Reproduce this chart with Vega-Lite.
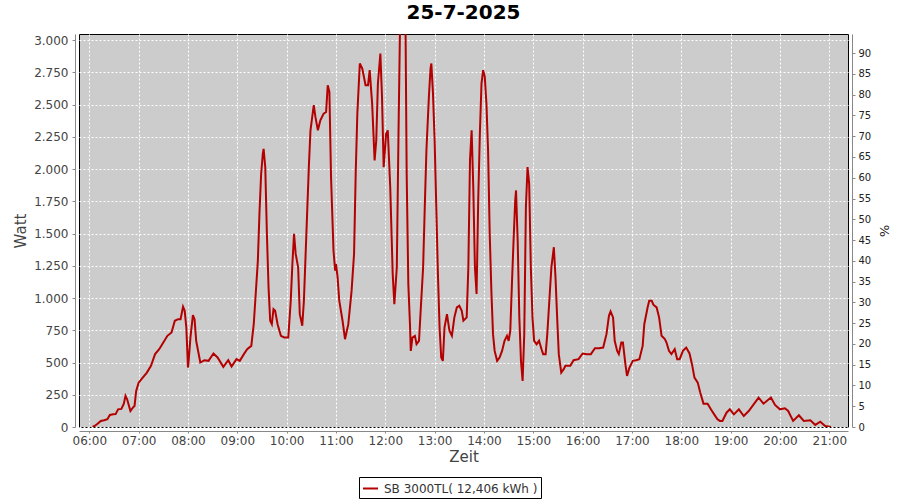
{
  "$schema": "https://vega.github.io/schema/vega-lite/v6.json",
  "width": 769,
  "height": 393,
  "autosize": {"type": "none"},
  "padding": {"left": 79, "top": 34, "right": 52, "bottom": 73},
  "background": "white",
  "title": {
    "text": "25-7-2025",
    "font": "DejaVu Sans",
    "fontSize": 20,
    "fontWeight": "bold",
    "color": "#000000",
    "anchor": "middle",
    "offset": 11
  },
  "config": {
    "view": {"fill": "#CCCCCC", "stroke": "#000000", "strokeWidth": 1},
    "axis": {
      "labelFont": "DejaVu Sans",
      "titleFont": "DejaVu Sans",
      "gridColor": "#FFFFFF",
      "gridDash": [2, 2],
      "gridWidth": 1,
      "gridOpacity": 1,
      "domainColor": "#888888",
      "tickColor": "#888888"
    }
  },
  "data": {
    "values": [
      {"time": "2025-07-25T06:04Z", "watt": 0},
      {"time": "2025-07-25T06:07Z", "watt": 10},
      {"time": "2025-07-25T06:10Z", "watt": 25},
      {"time": "2025-07-25T06:14Z", "watt": 47},
      {"time": "2025-07-25T06:18Z", "watt": 52},
      {"time": "2025-07-25T06:22Z", "watt": 60},
      {"time": "2025-07-25T06:25Z", "watt": 93},
      {"time": "2025-07-25T06:29Z", "watt": 98},
      {"time": "2025-07-25T06:32Z", "watt": 100},
      {"time": "2025-07-25T06:35Z", "watt": 137},
      {"time": "2025-07-25T06:39Z", "watt": 140},
      {"time": "2025-07-25T06:42Z", "watt": 180},
      {"time": "2025-07-25T06:44Z", "watt": 241},
      {"time": "2025-07-25T06:46Z", "watt": 215},
      {"time": "2025-07-25T06:50Z", "watt": 124},
      {"time": "2025-07-25T06:53Z", "watt": 150},
      {"time": "2025-07-25T06:55Z", "watt": 163},
      {"time": "2025-07-25T06:57Z", "watt": 280},
      {"time": "2025-07-25T07:00Z", "watt": 344},
      {"time": "2025-07-25T07:05Z", "watt": 383},
      {"time": "2025-07-25T07:10Z", "watt": 422},
      {"time": "2025-07-25T07:15Z", "watt": 474},
      {"time": "2025-07-25T07:20Z", "watt": 565},
      {"time": "2025-07-25T07:25Z", "watt": 603},
      {"time": "2025-07-25T07:30Z", "watt": 655},
      {"time": "2025-07-25T07:35Z", "watt": 707},
      {"time": "2025-07-25T07:40Z", "watt": 733},
      {"time": "2025-07-25T07:44Z", "watt": 824},
      {"time": "2025-07-25T07:48Z", "watt": 836},
      {"time": "2025-07-25T07:51Z", "watt": 836},
      {"time": "2025-07-25T07:54Z", "watt": 932},
      {"time": "2025-07-25T07:56Z", "watt": 901},
      {"time": "2025-07-25T07:58Z", "watt": 772},
      {"time": "2025-07-25T08:00Z", "watt": 461},
      {"time": "2025-07-25T08:01Z", "watt": 526},
      {"time": "2025-07-25T08:03Z", "watt": 694},
      {"time": "2025-07-25T08:06Z", "watt": 868},
      {"time": "2025-07-25T08:08Z", "watt": 836},
      {"time": "2025-07-25T08:10Z", "watt": 668},
      {"time": "2025-07-25T08:15Z", "watt": 500},
      {"time": "2025-07-25T08:20Z", "watt": 518},
      {"time": "2025-07-25T08:25Z", "watt": 513},
      {"time": "2025-07-25T08:31Z", "watt": 570},
      {"time": "2025-07-25T08:36Z", "watt": 539},
      {"time": "2025-07-25T08:43Z", "watt": 466},
      {"time": "2025-07-25T08:49Z", "watt": 518},
      {"time": "2025-07-25T08:53Z", "watt": 469},
      {"time": "2025-07-25T08:59Z", "watt": 526},
      {"time": "2025-07-25T09:03Z", "watt": 513},
      {"time": "2025-07-25T09:08Z", "watt": 565},
      {"time": "2025-07-25T09:12Z", "watt": 603},
      {"time": "2025-07-25T09:17Z", "watt": 629},
      {"time": "2025-07-25T09:20Z", "watt": 797},
      {"time": "2025-07-25T09:22Z", "watt": 992},
      {"time": "2025-07-25T09:25Z", "watt": 1290},
      {"time": "2025-07-25T09:27Z", "watt": 1665},
      {"time": "2025-07-25T09:29Z", "watt": 1963},
      {"time": "2025-07-25T09:31Z", "watt": 2118},
      {"time": "2025-07-25T09:32Z", "watt": 2157},
      {"time": "2025-07-25T09:34Z", "watt": 2015},
      {"time": "2025-07-25T09:36Z", "watt": 1497},
      {"time": "2025-07-25T09:38Z", "watt": 1083},
      {"time": "2025-07-25T09:40Z", "watt": 824},
      {"time": "2025-07-25T09:42Z", "watt": 797},
      {"time": "2025-07-25T09:44Z", "watt": 914},
      {"time": "2025-07-25T09:46Z", "watt": 901},
      {"time": "2025-07-25T09:49Z", "watt": 797},
      {"time": "2025-07-25T09:53Z", "watt": 707},
      {"time": "2025-07-25T09:57Z", "watt": 694},
      {"time": "2025-07-25T10:02Z", "watt": 694},
      {"time": "2025-07-25T10:05Z", "watt": 979},
      {"time": "2025-07-25T10:07Z", "watt": 1264},
      {"time": "2025-07-25T10:09Z", "watt": 1497},
      {"time": "2025-07-25T10:11Z", "watt": 1342},
      {"time": "2025-07-25T10:14Z", "watt": 1238},
      {"time": "2025-07-25T10:16Z", "watt": 875},
      {"time": "2025-07-25T10:19Z", "watt": 785},
      {"time": "2025-07-25T10:21Z", "watt": 979},
      {"time": "2025-07-25T10:24Z", "watt": 1497},
      {"time": "2025-07-25T10:27Z", "watt": 2015},
      {"time": "2025-07-25T10:29Z", "watt": 2300},
      {"time": "2025-07-25T10:33Z", "watt": 2495},
      {"time": "2025-07-25T10:35Z", "watt": 2404},
      {"time": "2025-07-25T10:38Z", "watt": 2300},
      {"time": "2025-07-25T10:41Z", "watt": 2378},
      {"time": "2025-07-25T10:45Z", "watt": 2430},
      {"time": "2025-07-25T10:48Z", "watt": 2442},
      {"time": "2025-07-25T10:50Z", "watt": 2650},
      {"time": "2025-07-25T10:52Z", "watt": 2598},
      {"time": "2025-07-25T10:54Z", "watt": 1937},
      {"time": "2025-07-25T10:57Z", "watt": 1368},
      {"time": "2025-07-25T10:59Z", "watt": 1212},
      {"time": "2025-07-25T11:00Z", "watt": 1264},
      {"time": "2025-07-25T11:02Z", "watt": 1160},
      {"time": "2025-07-25T11:04Z", "watt": 979},
      {"time": "2025-07-25T11:08Z", "watt": 824},
      {"time": "2025-07-25T11:11Z", "watt": 681},
      {"time": "2025-07-25T11:15Z", "watt": 797},
      {"time": "2025-07-25T11:19Z", "watt": 1057},
      {"time": "2025-07-25T11:22Z", "watt": 1342},
      {"time": "2025-07-25T11:24Z", "watt": 1963},
      {"time": "2025-07-25T11:26Z", "watt": 2430},
      {"time": "2025-07-25T11:29Z", "watt": 2818},
      {"time": "2025-07-25T11:32Z", "watt": 2779},
      {"time": "2025-07-25T11:36Z", "watt": 2650},
      {"time": "2025-07-25T11:39Z", "watt": 2650},
      {"time": "2025-07-25T11:41Z", "watt": 2767},
      {"time": "2025-07-25T11:44Z", "watt": 2507},
      {"time": "2025-07-25T11:47Z", "watt": 2067},
      {"time": "2025-07-25T11:49Z", "watt": 2222},
      {"time": "2025-07-25T11:51Z", "watt": 2663},
      {"time": "2025-07-25T11:54Z", "watt": 2896},
      {"time": "2025-07-25T11:56Z", "watt": 2559},
      {"time": "2025-07-25T11:58Z", "watt": 2015},
      {"time": "2025-07-25T12:01Z", "watt": 2274},
      {"time": "2025-07-25T12:03Z", "watt": 2300},
      {"time": "2025-07-25T12:06Z", "watt": 1859},
      {"time": "2025-07-25T12:09Z", "watt": 1186},
      {"time": "2025-07-25T12:11Z", "watt": 953},
      {"time": "2025-07-25T12:14Z", "watt": 1238},
      {"time": "2025-07-25T12:16Z", "watt": 2248},
      {"time": "2025-07-25T12:19Z", "watt": 3600},
      {"time": "2025-07-25T12:24Z", "watt": 3600},
      {"time": "2025-07-25T12:26Z", "watt": 1963},
      {"time": "2025-07-25T12:28Z", "watt": 1109},
      {"time": "2025-07-25T12:30Z", "watt": 797},
      {"time": "2025-07-25T12:31Z", "watt": 590},
      {"time": "2025-07-25T12:33Z", "watt": 694},
      {"time": "2025-07-25T12:36Z", "watt": 707},
      {"time": "2025-07-25T12:38Z", "watt": 642},
      {"time": "2025-07-25T12:41Z", "watt": 668},
      {"time": "2025-07-25T12:43Z", "watt": 901},
      {"time": "2025-07-25T12:46Z", "watt": 1238},
      {"time": "2025-07-25T12:48Z", "watt": 1704},
      {"time": "2025-07-25T12:50Z", "watt": 2144},
      {"time": "2025-07-25T12:53Z", "watt": 2559},
      {"time": "2025-07-25T12:55Z", "watt": 2779},
      {"time": "2025-07-25T12:56Z", "watt": 2818},
      {"time": "2025-07-25T12:58Z", "watt": 2585},
      {"time": "2025-07-25T13:00Z", "watt": 2222},
      {"time": "2025-07-25T13:02Z", "watt": 1704},
      {"time": "2025-07-25T13:04Z", "watt": 1186},
      {"time": "2025-07-25T13:06Z", "watt": 771},
      {"time": "2025-07-25T13:08Z", "watt": 539},
      {"time": "2025-07-25T13:10Z", "watt": 513},
      {"time": "2025-07-25T13:12Z", "watt": 771},
      {"time": "2025-07-25T13:15Z", "watt": 875},
      {"time": "2025-07-25T13:18Z", "watt": 746},
      {"time": "2025-07-25T13:21Z", "watt": 707},
      {"time": "2025-07-25T13:24Z", "watt": 850},
      {"time": "2025-07-25T13:27Z", "watt": 927},
      {"time": "2025-07-25T13:30Z", "watt": 940},
      {"time": "2025-07-25T13:33Z", "watt": 901},
      {"time": "2025-07-25T13:35Z", "watt": 824},
      {"time": "2025-07-25T13:39Z", "watt": 850},
      {"time": "2025-07-25T13:41Z", "watt": 1238},
      {"time": "2025-07-25T13:43Z", "watt": 2067},
      {"time": "2025-07-25T13:45Z", "watt": 2300},
      {"time": "2025-07-25T13:47Z", "watt": 1859},
      {"time": "2025-07-25T13:49Z", "watt": 1238},
      {"time": "2025-07-25T13:51Z", "watt": 1031},
      {"time": "2025-07-25T13:53Z", "watt": 1756},
      {"time": "2025-07-25T13:55Z", "watt": 2274},
      {"time": "2025-07-25T13:57Z", "watt": 2663},
      {"time": "2025-07-25T13:59Z", "watt": 2767},
      {"time": "2025-07-25T14:01Z", "watt": 2715},
      {"time": "2025-07-25T14:03Z", "watt": 2507},
      {"time": "2025-07-25T14:05Z", "watt": 2144},
      {"time": "2025-07-25T14:07Z", "watt": 1497},
      {"time": "2025-07-25T14:09Z", "watt": 1057},
      {"time": "2025-07-25T14:11Z", "watt": 720},
      {"time": "2025-07-25T14:13Z", "watt": 590},
      {"time": "2025-07-25T14:16Z", "watt": 513},
      {"time": "2025-07-25T14:19Z", "watt": 539},
      {"time": "2025-07-25T14:22Z", "watt": 590},
      {"time": "2025-07-25T14:25Z", "watt": 668},
      {"time": "2025-07-25T14:28Z", "watt": 707},
      {"time": "2025-07-25T14:30Z", "watt": 668},
      {"time": "2025-07-25T14:32Z", "watt": 746},
      {"time": "2025-07-25T14:34Z", "watt": 1109},
      {"time": "2025-07-25T14:36Z", "watt": 1445},
      {"time": "2025-07-25T14:38Z", "watt": 1756},
      {"time": "2025-07-25T14:39Z", "watt": 1834},
      {"time": "2025-07-25T14:41Z", "watt": 1445},
      {"time": "2025-07-25T14:43Z", "watt": 850},
      {"time": "2025-07-25T14:45Z", "watt": 513},
      {"time": "2025-07-25T14:47Z", "watt": 357},
      {"time": "2025-07-25T14:49Z", "watt": 720},
      {"time": "2025-07-25T14:51Z", "watt": 1704},
      {"time": "2025-07-25T14:53Z", "watt": 2015},
      {"time": "2025-07-25T14:55Z", "watt": 1885},
      {"time": "2025-07-25T14:57Z", "watt": 1238},
      {"time": "2025-07-25T14:59Z", "watt": 850},
      {"time": "2025-07-25T15:01Z", "watt": 668},
      {"time": "2025-07-25T15:04Z", "watt": 642},
      {"time": "2025-07-25T15:07Z", "watt": 668},
      {"time": "2025-07-25T15:10Z", "watt": 603},
      {"time": "2025-07-25T15:12Z", "watt": 565},
      {"time": "2025-07-25T15:15Z", "watt": 565},
      {"time": "2025-07-25T15:17Z", "watt": 720},
      {"time": "2025-07-25T15:20Z", "watt": 1031},
      {"time": "2025-07-25T15:22Z", "watt": 1238},
      {"time": "2025-07-25T15:24Z", "watt": 1342},
      {"time": "2025-07-25T15:25Z", "watt": 1394},
      {"time": "2025-07-25T15:27Z", "watt": 1160},
      {"time": "2025-07-25T15:29Z", "watt": 850},
      {"time": "2025-07-25T15:31Z", "watt": 565},
      {"time": "2025-07-25T15:34Z", "watt": 422},
      {"time": "2025-07-25T15:37Z", "watt": 448},
      {"time": "2025-07-25T15:39Z", "watt": 474},
      {"time": "2025-07-25T15:45Z", "watt": 474},
      {"time": "2025-07-25T15:49Z", "watt": 518},
      {"time": "2025-07-25T15:55Z", "watt": 526},
      {"time": "2025-07-25T16:00Z", "watt": 570},
      {"time": "2025-07-25T16:05Z", "watt": 565},
      {"time": "2025-07-25T16:10Z", "watt": 565},
      {"time": "2025-07-25T16:15Z", "watt": 611},
      {"time": "2025-07-25T16:20Z", "watt": 611},
      {"time": "2025-07-25T16:25Z", "watt": 616},
      {"time": "2025-07-25T16:29Z", "watt": 720},
      {"time": "2025-07-25T16:32Z", "watt": 862},
      {"time": "2025-07-25T16:34Z", "watt": 896},
      {"time": "2025-07-25T16:37Z", "watt": 850},
      {"time": "2025-07-25T16:39Z", "watt": 668},
      {"time": "2025-07-25T16:42Z", "watt": 590},
      {"time": "2025-07-25T16:44Z", "watt": 565},
      {"time": "2025-07-25T16:47Z", "watt": 655},
      {"time": "2025-07-25T16:49Z", "watt": 655},
      {"time": "2025-07-25T16:52Z", "watt": 487},
      {"time": "2025-07-25T16:54Z", "watt": 396},
      {"time": "2025-07-25T16:57Z", "watt": 461},
      {"time": "2025-07-25T17:01Z", "watt": 513},
      {"time": "2025-07-25T17:05Z", "watt": 518},
      {"time": "2025-07-25T17:09Z", "watt": 526},
      {"time": "2025-07-25T17:13Z", "watt": 629},
      {"time": "2025-07-25T17:15Z", "watt": 797},
      {"time": "2025-07-25T17:19Z", "watt": 927},
      {"time": "2025-07-25T17:21Z", "watt": 979},
      {"time": "2025-07-25T17:24Z", "watt": 979},
      {"time": "2025-07-25T17:26Z", "watt": 948},
      {"time": "2025-07-25T17:30Z", "watt": 927},
      {"time": "2025-07-25T17:33Z", "watt": 850},
      {"time": "2025-07-25T17:36Z", "watt": 707},
      {"time": "2025-07-25T17:40Z", "watt": 681},
      {"time": "2025-07-25T17:42Z", "watt": 655},
      {"time": "2025-07-25T17:45Z", "watt": 590},
      {"time": "2025-07-25T17:48Z", "watt": 565},
      {"time": "2025-07-25T17:52Z", "watt": 603},
      {"time": "2025-07-25T17:55Z", "watt": 526},
      {"time": "2025-07-25T17:58Z", "watt": 526},
      {"time": "2025-07-25T18:02Z", "watt": 590},
      {"time": "2025-07-25T18:06Z", "watt": 616},
      {"time": "2025-07-25T18:10Z", "watt": 570},
      {"time": "2025-07-25T18:13Z", "watt": 487},
      {"time": "2025-07-25T18:16Z", "watt": 383},
      {"time": "2025-07-25T18:20Z", "watt": 344},
      {"time": "2025-07-25T18:23Z", "watt": 267},
      {"time": "2025-07-25T18:27Z", "watt": 181},
      {"time": "2025-07-25T18:32Z", "watt": 181},
      {"time": "2025-07-25T18:36Z", "watt": 137},
      {"time": "2025-07-25T18:40Z", "watt": 98},
      {"time": "2025-07-25T18:44Z", "watt": 60},
      {"time": "2025-07-25T18:47Z", "watt": 47},
      {"time": "2025-07-25T18:50Z", "watt": 47},
      {"time": "2025-07-25T18:55Z", "watt": 111},
      {"time": "2025-07-25T18:59Z", "watt": 137},
      {"time": "2025-07-25T19:04Z", "watt": 98},
      {"time": "2025-07-25T19:10Z", "watt": 137},
      {"time": "2025-07-25T19:16Z", "watt": 85},
      {"time": "2025-07-25T19:22Z", "watt": 124},
      {"time": "2025-07-25T19:28Z", "watt": 176},
      {"time": "2025-07-25T19:34Z", "watt": 228},
      {"time": "2025-07-25T19:40Z", "watt": 181},
      {"time": "2025-07-25T19:49Z", "watt": 228},
      {"time": "2025-07-25T19:54Z", "watt": 171},
      {"time": "2025-07-25T20:00Z", "watt": 137},
      {"time": "2025-07-25T20:06Z", "watt": 145},
      {"time": "2025-07-25T20:10Z", "watt": 124},
      {"time": "2025-07-25T20:16Z", "watt": 47},
      {"time": "2025-07-25T20:23Z", "watt": 91},
      {"time": "2025-07-25T20:29Z", "watt": 47},
      {"time": "2025-07-25T20:37Z", "watt": 52},
      {"time": "2025-07-25T20:43Z", "watt": 16},
      {"time": "2025-07-25T20:49Z", "watt": 41},
      {"time": "2025-07-25T20:55Z", "watt": 8},
      {"time": "2025-07-25T21:02Z", "watt": 0}
    ]
  },
  "layer": [
    {
      "mark": {"type": "line", "strokeWidth": 2, "clip": true},
      "encoding": {
        "x": {
          "field": "time",
          "type": "temporal",
          "scale": {"type": "utc", "domain": [1753422448000, 1753478565000], "nice": false},
          "axis": {
            "title": "Zeit",
            "format": "%H:%M",
            "offset": 4,
            "tickSize": 2,
            "labelPadding": 2,
            "labelFontSize": 12,
            "labelColor": "#444444",
            "labelFlush": false,
            "labelOverlap": false,
            "titleFontSize": 15,
            "titleFontWeight": "normal",
            "titleColor": "#444444",
            "titlePadding": 3,
            "grid": true
          }
        },
        "y": {
          "field": "watt",
          "type": "quantitative",
          "scale": {"domain": [0, 3047], "nice": false},
          "axis": {
            "title": "Watt",
            "orient": "left",
            "values": [0, 250, 500, 750, 1000, 1250, 1500, 1750, 2000, 2250, 2500, 2750, 3000],
            "labelExpr": "replace(format(datum.value, ','), ',', '.')",
            "offset": 4,
            "tickSize": 3,
            "labelPadding": 4,
            "labelFontSize": 12,
            "labelColor": "#444444",
            "titleFontSize": 15,
            "titleFontWeight": "normal",
            "titleColor": "#444444",
            "titlePadding": 5,
            "grid": true
          }
        },
        "color": {
          "datum": "SB 3000TL( 12,406 kWh )",
          "type": "nominal",
          "scale": {"range": ["#B40000"]},
          "legend": {
            "title": null,
            "orient": "none",
            "legendX": 280,
            "legendY": 443,
            "strokeColor": "#000000",
            "fillColor": "#FFFFFF",
            "padding": 3,
            "symbolType": "stroke",
            "symbolSize": 225,
            "symbolStrokeWidth": 2,
            "labelFont": "DejaVu Sans",
            "labelFontSize": 12,
            "labelColor": "#333333",
            "labelOffset": 5
          }
        }
      }
    },
    {
      "mark": {"type": "rule", "opacity": 0},
      "encoding": {
        "y": {
          "datum": 0,
          "type": "quantitative",
          "scale": {"domain": [0, 94.6], "nice": false},
          "axis": {
            "title": "%",
            "orient": "right",
            "values": [0, 5, 10, 15, 20, 25, 30, 35, 40, 45, 50, 55, 60, 65, 70, 75, 80, 85, 90],
            "grid": false,
            "offset": 4,
            "tickSize": 3,
            "labelPadding": 3,
            "labelFontSize": 10,
            "labelColor": "#222222",
            "titleFontSize": 13,
            "titleFontWeight": "normal",
            "titleColor": "#222222",
            "titlePadding": 6
          }
        }
      }
    }
  ],
  "resolve": {"scale": {"y": "independent"}}
}
